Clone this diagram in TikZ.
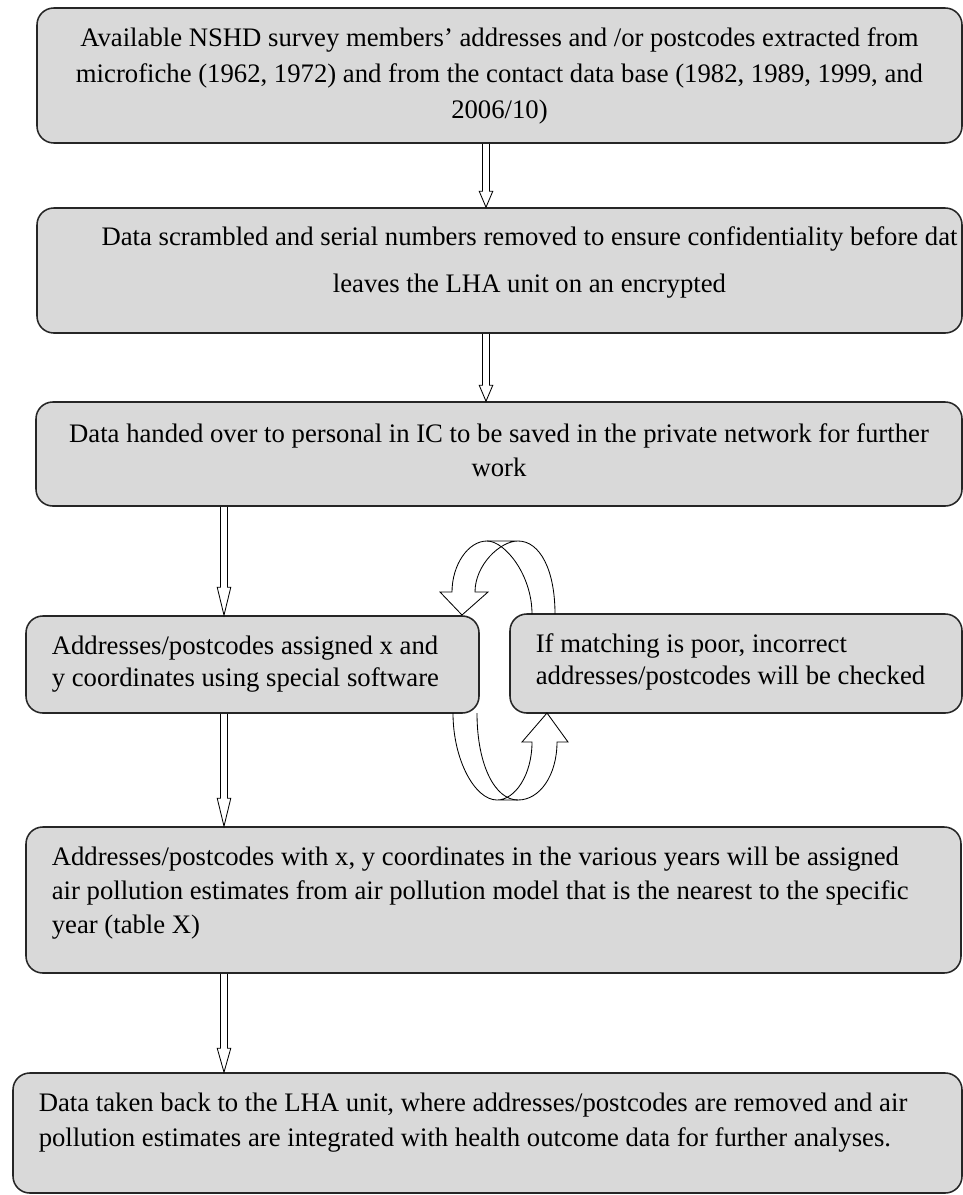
\documentclass[tikz,border=0pt]{standalone}
\usepackage{fontspec}
\setmainfont{Liberation Serif}
\usetikzlibrary{calc}

\begin{document}
\begin{tikzpicture}[thick,
    box/.style={draw=black!85, fill=black!15, line width=1.1pt, rounded corners=0.42cm},
    txt/.style={inner sep=0pt, align=#1},
    txt/.default=left,
    hollow/.style={line width=0.6pt, to path={let \p1=(\tikztostart), \p2=(\tikztotarget) in
      (\x1-0.0875cm,\y1) -- (\x1-0.0875cm,\y2+#1) -- (\x1-0.17cm,\y2+#1) -- (\x1,\y2)
      -- (\x1+0.17cm,\y2+#1) -- (\x1+0.0875cm,\y2+#1) -- (\x1+0.0875cm,\y1)}},
    hollow/.default=0.7cm,
    loop/.style={line width=0.6pt}]
    \useasboundingbox (0,0) rectangle (24.075,-29.875);

    \coordinate (mid) at (12.15,0);
    \coordinate (left) at (5.6,0);

    \node[box, minimum width=23.125cm, minimum height=3.375cm] (avail) at (12.4875,-1.8875) {};
    \node[box, minimum width=23.125cm, minimum height=3.125cm] (scram) at (12.4875,-6.7625) {};
    \node[box, minimum width=23.15cm, minimum height=2.6cm] (hand) at (12.475,-11.35) {};
    \node[box, minimum width=11.325cm, minimum height=2.425cm] (assign) at (6.3125,-16.6125) {};
    \node[box, minimum width=11.3cm, minimum height=2.475cm] (check) at (18.4,-16.5875) {};
    \node[box, minimum width=23.375cm, minimum height=3.65cm] (estim) at (12.3375,-22.5) {};
    \node[box, minimum width=23.725cm, minimum height=3.0cm] (back) at (12.1875,-28.325) {};

    \node[txt=center, font=\fontsize{19}{25.6}\selectfont] (availtext) at (avail.center)
      {Available NSHD survey members' addresses and /or postcodes extracted from\\
       microfiche (1962, 1972) and from the contact data base (1982, 1989, 1999, and\\
       2006/10)};
    \node[txt=center, font=\fontsize{19}{33.4}\selectfont] (scramtext) at ([shift={(0.75,0.2)}]scram.center)
      {Data scrambled and serial numbers removed to ensure confidentiality before dat\\
       leaves the LHA unit on an encrypted};
    \node[txt=center, font=\fontsize{19}{24.2}\selectfont] (handtext) at ([yshift=0.1cm]hand.center)
      {Data handed over to personal in IC to be saved in the private network for further\\
       work};
    \node[txt, anchor=north west, font=\fontsize{19}{22.8}\selectfont] (assigntext) at ([shift={(0.65,-0.5)}]assign.north west)
      {Addresses/postcodes assigned x and\\
       y coordinates using special software};
    \node[txt, anchor=north west, font=\fontsize{19}{22.8}\selectfont] (checktext) at ([shift={(0.65,-0.5)}]check.north west)
      {If matching is poor, incorrect\\
       addresses/postcodes will be checked};
    \node[txt, anchor=north west, font=\fontsize{19}{24.2}\selectfont] (estimtext) at ([shift={(0.65,-0.5)}]estim.north west)
      {Addresses/postcodes with x, y coordinates in the various years will be assigned\\
       air pollution estimates from air pollution model that is the nearest to the specific\\
       year (table X)};
    \node[txt, anchor=north west, font=\fontsize{19}{24.9}\selectfont] (backtext) at ([shift={(0.65,-0.5)}]back.north west)
      {Data taken back to the LHA unit, where addresses/postcodes are removed and air\\
       pollution estimates are integrated with health outcome data for further analyses.};

    \draw[hollow=0.4cm] (avail.south -| mid) to (scram.north -| mid);
    \draw[hollow=0.4cm] (scram.south -| mid) to (hand.north -| mid);
    \draw[hollow] (hand.south -| left) to (assign.north -| left);
    \draw[hollow] (assign.south -| left) to (estim.north -| left);
    \draw[hollow=0.6cm] (estim.south -| left) to (back.north -| left);

    % curved arrows between assign and check
    \draw[loop] (13.875,-15.35) .. controls (13.875,-14.25) and (13.5,-13.525) .. (12.95,-13.525)
      -- (12.175,-13.525) .. controls (11.7,-13.525) and (11.3,-14.125) .. (11.3,-14.8)
      -- (11.0,-14.8) -- (11.55,-15.375) -- (12.2,-14.8) -- (11.875,-14.8)
      .. controls (11.875,-14.125) and (12.5,-13.525) .. (12.95,-13.525);
    \draw[loop] (13.3,-15.35) .. controls (13.3,-14.375) and (12.625,-13.525) .. (12.175,-13.525);

    \draw[loop] (11.325,-17.825) .. controls (11.325,-19.0) and (11.875,-20.0) .. (12.425,-20.0)
      -- (12.95,-20.0) .. controls (13.5,-20.0) and (13.925,-19.375) .. (13.925,-18.55)
      -- (14.2,-18.55) -- (13.675,-17.825) -- (13.05,-18.55) -- (13.3,-18.55)
      .. controls (13.3,-19.375) and (12.875,-20.0) .. (12.425,-20.0);
    \draw[loop] (11.925,-17.825) .. controls (11.925,-19.125) and (12.375,-20.0) .. (12.95,-20.0);
\end{tikzpicture}
\end{document}
